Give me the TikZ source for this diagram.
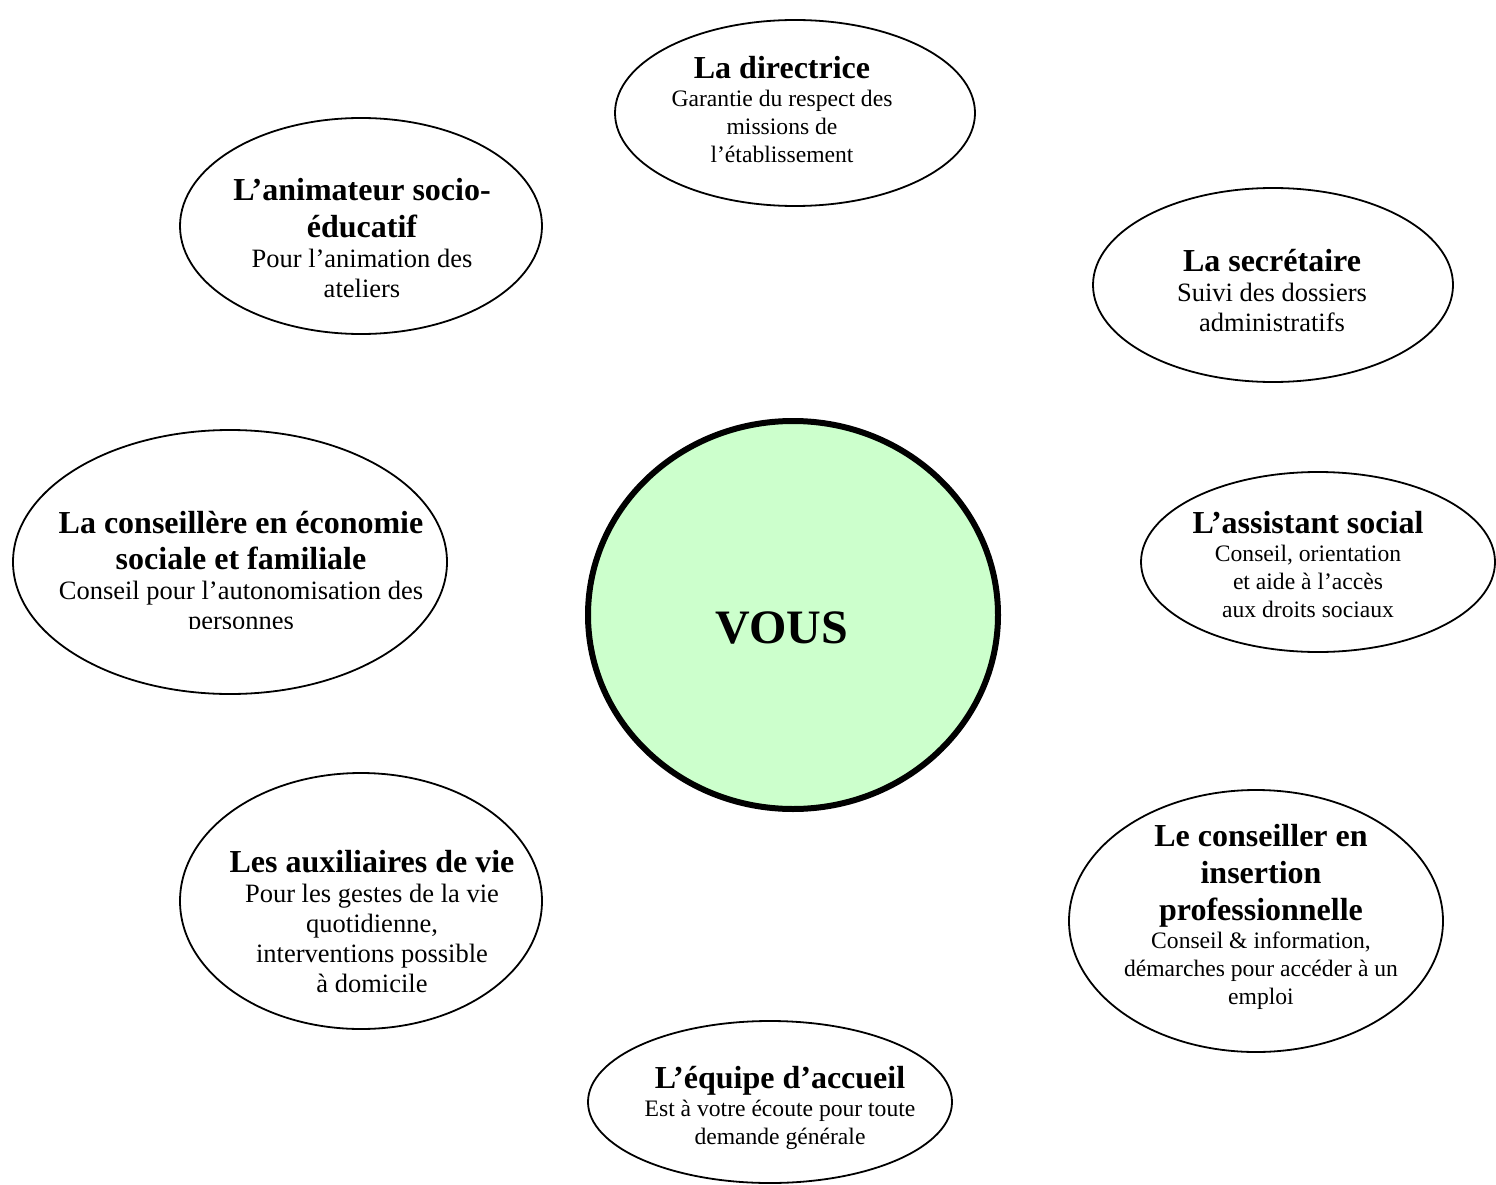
\documentclass[tikz,border=0pt]{standalone}
\usepackage{fontspec}
\setmainfont{Liberation Serif}
\usetikzlibrary{shapes.geometric}
\setlength{\parindent}{0pt}
\definecolor{vousgreen}{HTML}{CCFFCC}
\newcommand\ttlf{\fontsize{32}{36.8}\selectfont\bfseries}
\newcommand\bdyf{\fontsize{23.6}{28}\selectfont}
\newcommand\bdyb{\fontsize{26.5}{30}\selectfont}
\begin{document}
\begin{tikzpicture}[x=1pt,y=-1pt,
  bubble/.style={draw=black, line width=1.8pt, ellipse, inner sep=0pt},
  blabel/.style={text width=480pt, align=flush center, inner sep=0pt, font=\bdyf},
  blabelbig/.style={blabel, font=\bdyb},
  ]
\useasboundingbox (0,0) rectangle (1496,1185);
% ellipses
\node[bubble, minimum width=360pt, minimum height=186pt] (dir) at (795,113) {};
\node[bubble, minimum width=362pt, minimum height=216pt] (anim) at (361,226) {};
\node[bubble, minimum width=360pt, minimum height=194pt] (sec) at (1273,285) {};
\node[bubble, minimum width=434pt, minimum height=264pt] (cons) at (230,562) {};
\node[draw=black, line width=6pt, ellipse, fill=vousgreen, inner sep=0pt,
      minimum width=410pt, minimum height=388pt] (vous) at (793,615) {};
\node[bubble, minimum width=354pt, minimum height=180pt] (assist) at (1318,562) {};
\node[bubble, minimum width=362pt, minimum height=256pt] (aux) at (361,901) {};
\node[bubble, minimum width=374pt, minimum height=262pt] (insert) at (1256,921) {};
\node[bubble, minimum width=364pt, minimum height=162pt] (accueil) at (770,1102) {};
% texts
\node[blabel] (tdir) at (782,109.2) {{\ttlf La directrice\par}Garantie du respect des\\missions de\\l’établissement};
\node[blabelbig] (tanim) at (362,237.8) {{\ttlf L’animateur socio-\\éducatif\par}Pour l’animation des\\ateliers};
\node[blabelbig] (tsec) at (1272,290.8) {{\ttlf La secrétaire\par}Suivi des dossiers\\administratifs};
\begin{scope}
\clip (0,400) rectangle (470,628);
\node[blabelbig] (tcons) at (241,573.2) {{\ttlf La conseillère en économie\\sociale et familiale\par}Conseil pour l’autonomisation des\\personnes};
\end{scope}
\node[font=\fontsize{48}{55}\selectfont\bfseries, inner sep=0pt] (tvous) at (782,628) {VOUS};
\node[blabel] (tassist) at (1308,564.2) {{\ttlf L’assistant social\par}Conseil, orientation\\et aide à l’accès\\aux droits sociaux};
\node[blabelbig] (taux) at (372,921.6) {{\ttlf Les auxiliaires de vie\par}Pour les gestes de la vie\\quotidienne,\\interventions possible\\à domicile};
\node[blabel] (tinsert) at (1261,917.2) {{\ttlf Le conseiller en\\insertion\\professionnelle\par}Conseil \& information,\\démarches pour accéder à un\\emploi};
\node[blabel] (taccueil) at (780,1107.8) {{\ttlf L’équipe d’accueil\par}Est à votre écoute pour toute\\demande générale};
\end{tikzpicture}
\end{document}
